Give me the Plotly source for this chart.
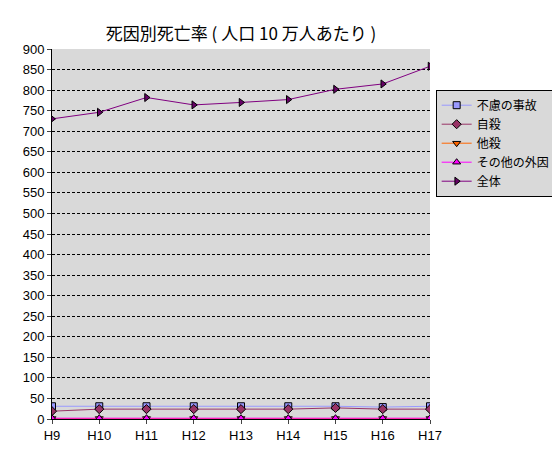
import plotly.graph_objects as go

years = ["H9","H10","H11","H12","H13","H14","H15","H16","H17"]
accident = [31,31,31,31,31,31,31,29,31]
suicide = [19,24,24,24,24,24,27,24,24]
homicide = [1,1,1,1,1,1,1,1,1]
other = [2,2,2,2,2,2,2,2,2]
total = [730,746,782,764,770,777,802,815,858]
names = ["不慮の事故","自殺","他殺","その他の外因","全体"]

series = [
    (accident, "#9999FF", "square", "#9999FF"),
    (suicide, "#993366", "diamond", "#993366"),
    (homicide, "#FF6600", "triangle-down", "#FF6600"),
    (other, "#FF00FF", "triangle-up", "#FF00FF"),
    (total, "#800080", "triangle-right", "#660066"),
]
fig = go.Figure()
for (vals, col, sym, mcol), nm in zip(series, names):
    fig.add_trace(go.Scatter(x=years, y=vals, name=nm, mode="lines+markers",
        line=dict(color=col, width=1),
        marker=dict(symbol=sym, size=7, color=mcol, line=dict(color="black", width=1))))

fig.update_layout(
    width=560, height=455, margin=dict(l=44, r=118, t=41, b=44),
    paper_bgcolor="white", plot_bgcolor="#D9D9D9",
    font=dict(family="Noto Sans CJK JP", size=12, color="black"),
    title=dict(text="死因別死亡率 ( 人口 10 万人あたり )", x=0.5, xanchor="center", xref="paper",
               y=0.955, font=dict(size=17)),
    showlegend=True,
    legend=dict(x=1.015, y=0.89, xanchor="left", yanchor="top", bgcolor="#D9D9D9",
                bordercolor="black", borderwidth=1, font=dict(size=12), tracegroupgap=0),
    xaxis=dict(range=[0,8], showgrid=False, showline=True, linecolor="black",
               ticks="outside", ticklen=4, tickfont=dict(size=13, family="Liberation Sans")),
    yaxis=dict(range=[0,900], dtick=50, showgrid=True, gridcolor="black", griddash="3px,2px",
               gridwidth=1, showline=True, linecolor="black", ticks="outside", ticklen=4,
               zeroline=False, tickfont=dict(size=13, family="Liberation Sans")),
)
fig.write_html("out.html")
